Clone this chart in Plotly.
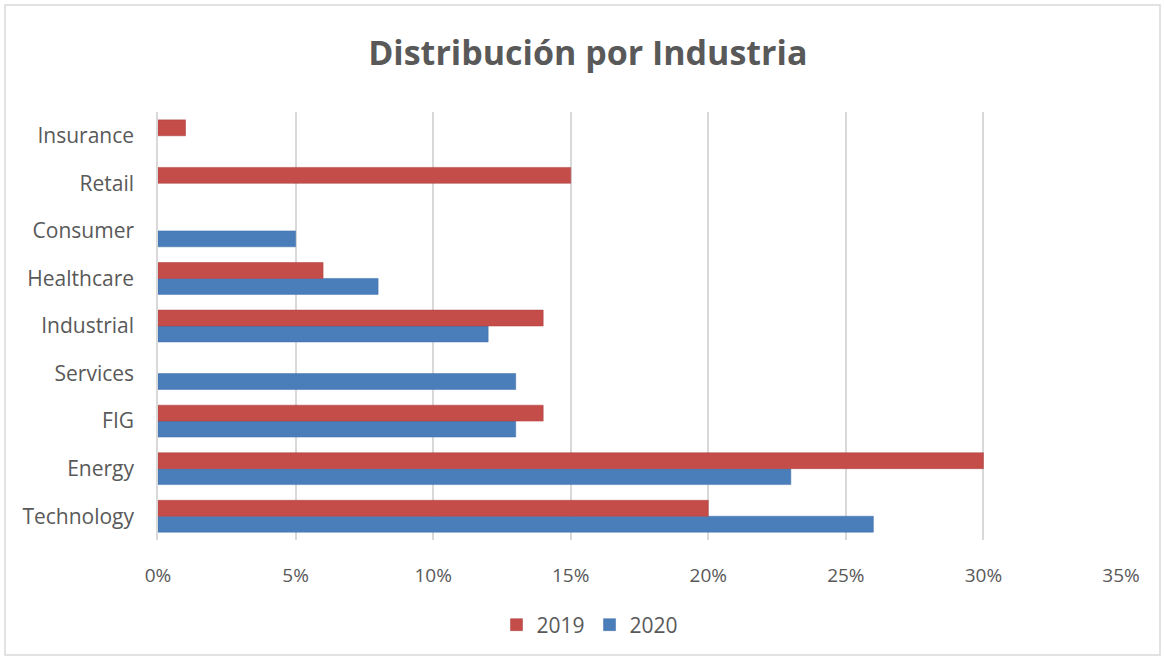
import plotly.graph_objects as go

categories = ["Technology", "Energy", "FIG", "Services", "Industrial", "Healthcare", "Consumer", "Retail", "Insurance"]
values_2019 = [0.20, 0.30, 0.14, None, 0.14, 0.06, None, 0.15, 0.01]
values_2020 = [0.26, 0.23, 0.13, 0.13, 0.12, 0.08, 0.05, None, None]
x_ticks = [0, 0.05, 0.10, 0.15, 0.20, 0.25, 0.30, 0.35]
x_tick_labels = ["0%", "5%", "10%", "15%", "20%", "25%", "30%", "35%"]

W, H = 1164, 660
ml, mr, mt, mb = 158, 43, 112, 120
pw, ph = W - ml - mr, H - mt - mb

def px_x(p):
    return (p - ml) / pw

def px_y(p):
    return (H - mb - p) / ph

font_fam = "Open Sans, Liberation Sans, sans-serif"
grey = "#595959"

fig = go.Figure()
fig.add_trace(go.Bar(
    y=categories, x=values_2020, name="2020", orientation="h",
    marker=dict(color="#4a7ebb", line=dict(color="#3f6fa8", width=0.5)),
))
fig.add_trace(go.Bar(
    y=categories, x=values_2019, name="2019", orientation="h",
    marker=dict(color="#c44d4a", line=dict(color="#ad3f3c", width=0.5)),
))

fig.update_layout(
    width=W, height=H,
    margin=dict(l=ml, r=mr, t=mt, b=mb),
    paper_bgcolor="white", plot_bgcolor="white",
    barmode="group", bargap=0.33, bargroupgap=0,
    title=dict(text="<b>Distribución por Industria</b>", x=0.505, xanchor="center",
               y=1 - 53 / H, yanchor="middle",
               font=dict(family=font_fam, size=34, color=grey)),
    xaxis=dict(range=[0, 0.35], tickvals=x_ticks, ticktext=x_tick_labels,
               showgrid=True, gridcolor="#d9d9d9", gridwidth=1.5, zeroline=False,
               showline=False, ticks="", ticklabelstandoff=22,
               tickfont=dict(family=font_fam, size=19, color=grey)),
    yaxis=dict(categoryorder="array", categoryarray=categories,
               showline=True, linecolor="#d9d9d9", linewidth=1.5, showgrid=False,
               ticks="", ticklabelstandoff=18, tickfont=dict(family=font_fam, size=21, color=grey)),
    legend=dict(orientation="h", traceorder="reversed", x=px_x(590), xanchor="center",
                y=px_y(625), yanchor="middle",
                font=dict(family=font_fam, size=21, color=grey)),
    showlegend=True,
    shapes=[dict(type="rect", xref="paper", yref="paper",
                 x0=px_x(5), x1=px_x(1160), y0=px_y(655), y1=px_y(5),
                 line=dict(color="#d9d9d9", width=1.5), fillcolor="rgba(0,0,0,0)", layer="below")],
)

fig.write_html("out.html", config={"displayModeBar": False},
               post_script="document.body.style.margin='0';")
